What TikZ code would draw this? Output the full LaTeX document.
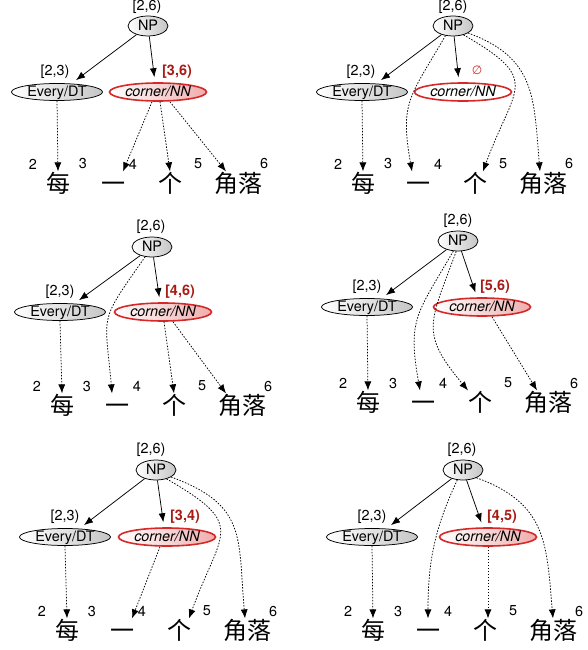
\documentclass[tikz,border=0pt]{standalone}
\usepackage{fontspec}
\setmainfont{TeX Gyre Heros}
\newfontfamily\cjk{Noto Sans CJK SC}
\newfontfamily\symb{DejaVu Sans}
\usetikzlibrary{shapes.geometric,arrows.meta}

\definecolor{nnred}{RGB}{214,40,40}
\definecolor{spanred}{RGB}{168,28,22}

\tikzset{
  lbl/.style={font=\fontsize{14.4}{16}\selectfont, inner sep=0pt},
  tag/.style={lbl, ellipse, draw, line width=0.75pt, left color=white, right color=gray!45,
    text height=10.4pt, text depth=1.2pt},
  phrase/.style={tag, minimum width=40pt, minimum height=20pt},
  postag/.style={tag, minimum width=91pt, minimum height=17pt},
  focustag/.style={tag, draw=nnred, line width=1.6pt, right color=nnred!38,
    minimum width=97pt, minimum height=18pt, font=\fontsize{14.4}{16}\selectfont\itshape},
  gone/.style={left color=white, right color=white},
  spanlbl/.style={lbl},
  spanhit/.style={lbl, text=spanred, font=\fontsize{14.4}{16}\selectfont\bfseries},
  digit/.style={lbl},
  hanzi/.style={font=\cjk\fontsize{24}{26}\selectfont, inner sep=0pt, text height=20.4pt, text depth=2.4pt},
  treeedge/.style={-{Latex[length=9pt,width=7pt]}, line width=0.75pt, shorten >=5pt},
  wordlink/.style={-{Latex[length=9pt,width=7pt]}, line width=0.75pt, dash pattern=on 1.5pt off 1.5pt},
}

% one row of boundaries and words, #2,#3 = centre of the first word
\newcommand{\tokenrow}[3]{%
  \node[digit] (i2#1) at (#2-25,#3-19) {2};
  \node[digit] (i3#1) at (#2+25,#3-19) {3};
  \node[digit] (i4#1) at (#2+75,#3-19) {4};
  \node[digit] (i5#1) at (#2+140,#3-19) {5};
  \node[digit] (i6#1) at (#2+206,#3-19) {6};
  \node[hanzi] (w1#1) at (#2,#3) {每};
  \node[hanzi] (w2#1) at (#2+55,#3) {一};
  \node[hanzi] (w3#1) at (#2+112,#3) {个};
  \node[hanzi] (w4#1) at (#2+180,#3) {角落};
}

\begin{document}
\begin{tikzpicture}[x=1pt,y=-1pt]
    \useasboundingbox (0,0) rectangle (588,650);

    % top left
    \node[phrase] (npA) at (148,26) {NP};
    \node[spanlbl] (sA0) at (147,7) {[2,6)};
    \node[postag] (dtA) at (57,92) {Every/DT};
    \node[spanlbl] (sA1) at (55,72) {[2,3)};
    \node[focustag] (nnA) at (158,92) {corner/NN};
    \node[spanhit] (sA2) at (177,72) {[3,6)};
    \tokenrow{A}{58}{183}
    \draw[treeedge] (npA) -- ([xshift=15pt]dtA.north);
    \draw[treeedge] (npA) -- ([xshift=-3pt]nnA.north);
    \draw[wordlink] (dtA.south) -- (w1A.north);
    \draw[wordlink] ([xshift=-6pt]nnA.south) -- ([xshift=10pt]w2A.north);
    \draw[wordlink] ([xshift=2pt]nnA.south) -- (w3A.north);
    \draw[wordlink] ([xshift=12pt]nnA.south) -- ([xshift=-12pt]w4A.north);

    % top right
    \node[phrase] (npB) at (453,26) {NP};
    \node[spanlbl] (sB0) at (453,7) {[2,6)};
    \node[postag] (dtB) at (362,92) {Every/DT};
    \node[spanlbl] (sB1) at (361,72) {[2,3)};
    \node[focustag, gone] (nnB) at (463,92) {corner/NN};
    \node[spanlbl, text=nnred, font=\symb\fontsize{12}{14}\selectfont] (sB2) at (477,70) {∅};
    \tokenrow{B}{363}{183}
    \draw[treeedge] (npB) -- ([xshift=15pt]dtB.north);
    \draw[treeedge] (npB) -- ([xshift=-4pt]nnB.north);
    \draw[wordlink] (dtB.south) -- (w1B.north);
    \draw[wordlink] (npB.232) to[out=-120,in=100,looseness=1.3] ([xshift=-6pt]w2B.north);
    \draw[wordlink] (npB.-40) to[out=-30,in=70,looseness=1.7] ([xshift=8pt]w3B.north);
    \draw[wordlink] (npB.-25) to[out=-20,in=95,looseness=1.2] ([xshift=-3pt]w4B.north);

    % middle left
    \node[phrase] (npC) at (152,247) {NP};
    \node[spanlbl] (sC0) at (151,227) {[2,6)};
    \node[postag] (dtC) at (60,312) {Every/DT};
    \node[spanlbl] (sC1) at (60,292) {[2,3)};
    \node[focustag] (nnC) at (163,312) {corner/NN};
    \node[spanhit] (sC2) at (180,292) {[4,6)};
    \tokenrow{C}{62}{405}
    \draw[treeedge] (npC) -- ([xshift=15pt]dtC.north);
    \draw[treeedge] (npC) -- ([xshift=-3pt]nnC.north);
    \draw[wordlink] (dtC.south) -- (w1C.north);
    \draw[wordlink] (npC.235) to[out=-125,in=95,looseness=1.5] ([xshift=-5pt]w2C.north);
    \draw[wordlink] ([xshift=1pt]nnC.south) -- (w3C.north);
    \draw[wordlink] ([xshift=10pt]nnC.south) -- ([xshift=-16pt]w4C.north);

    % middle right
    \node[phrase] (npD) at (458,241) {NP};
    \node[spanlbl] (sD0) at (458,221) {[2,6)};
    \node[postag] (dtD) at (367,307) {Every/DT};
    \node[spanlbl] (sD1) at (367,287) {[2,3)};
    \node[focustag] (nnD) at (482,307) {corner/NN};
    \node[spanhit] (sD2) at (495,287) {[5,6)};
    \tokenrow{D}{368}{402}
    \draw[treeedge] (npD) -- ([xshift=15pt]dtD.north);
    \draw[treeedge] (npD) -- ([xshift=-5pt]nnD.north);
    \draw[wordlink] (dtD.south) -- (w1D.north);
    \draw[wordlink] (npD.245) to[out=-120,in=100,looseness=1.3] ([xshift=-3pt]w2D.north);
    \draw[wordlink] (npD.260) to[out=-110,in=130,looseness=1.4] ([xshift=-12pt]w3D.north);
    \draw[wordlink] ([xshift=10pt]nnD.south) -- ([xshift=-11pt]w4D.north);

    % bottom left
    \node[phrase] (npE) at (156,470) {NP};
    \node[spanlbl] (sE0) at (151,450) {[2,6)};
    \node[postag] (dtE) at (65,537) {Every/DT};
    \node[spanlbl] (sE1) at (65,517) {[2,3)};
    \node[focustag] (nnE) at (167,537) {corner/NN};
    \node[spanhit] (sE2) at (185,517) {[3,4)};
    \tokenrow{E}{67}{630}
    \draw[treeedge] (npE) -- ([xshift=15pt]dtE.north);
    \draw[treeedge] (npE) -- ([xshift=-3pt]nnE.north);
    \draw[wordlink] (dtE.south) -- (w1E.north);
    \draw[wordlink] ([xshift=-7pt]nnE.south) -- ([xshift=10pt]w2E.north);
    \draw[wordlink] (npE.-40) to[out=-30,in=70,looseness=1.7] ([xshift=10pt]w3E.north);
    \draw[wordlink] (npE.-25) to[out=-20,in=95,looseness=1.3] ([xshift=-2pt]w4E.north);

    % bottom right
    \node[phrase] (npF) at (463,470) {NP};
    \node[spanlbl] (sF0) at (462,450) {[2,6)};
    \node[postag] (dtF) at (372,537) {Every/DT};
    \node[spanlbl] (sF1) at (372,517) {[2,3)};
    \node[focustag] (nnF) at (488,537) {corner/NN};
    \node[spanhit] (sF2) at (502,517) {[4,5)};
    \tokenrow{F}{373}{630}
    \draw[treeedge] (npF) -- ([xshift=15pt]dtF.north);
    \draw[treeedge] (npF) -- ([xshift=-5pt]nnF.north);
    \draw[wordlink] (dtF.south) -- (w1F.north);
    \draw[wordlink] (npF.240) to[out=-115,in=90] (w2F.north);
    \draw[wordlink] (nnF.south) -- (nnF.south |- w3F.north);
    \draw[wordlink] (npF.-30) to[out=-20,in=95,looseness=1.2] (w4F.north);
\end{tikzpicture}
\end{document}
